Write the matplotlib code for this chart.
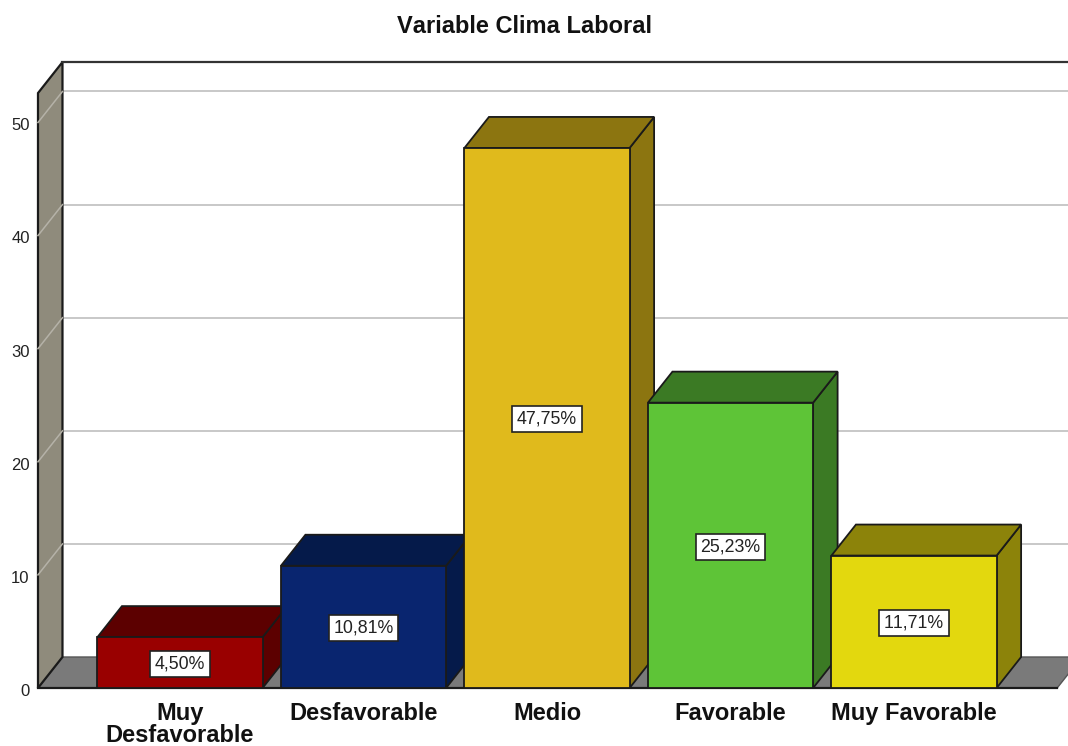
import matplotlib
matplotlib.use("Agg")
import matplotlib.pyplot as plt
from matplotlib.patches import Polygon

plt.rcParams["font.family"] = ["Liberation Sans", "DejaVu Sans"]
plt.rcParams["text.kerning_factor"] = 6

categories = ["Muy\nDesfavorable", "Desfavorable", "Medio", "Favorable", "Muy Favorable"]
values = [4.50, 10.81, 47.75, 25.23, 11.71]
labels = ["4,50%", "10,81%", "47,75%", "25,23%", "11,71%"]
front_colors = ["#990000", "#09256F", "#E0BA1C", "#5EC437", "#E3D80E"]
top_colors = ["#5C0000", "#051A4A", "#8C7510", "#3B7A24", "#8C830A"]
y_ticks = [0, 10, 20, 30, 40, 50]

# one axes over the whole figure, scaled so depth offsets stay in data units
fig = plt.figure(figsize=(10.68, 7.46), dpi=100)
ax = fig.add_axes([0, 0, 1, 1])
ax.set_xlim(-0.981, 4.839)
ax.set_ylim(-5.128, 60.83)
ax.axis("off")

dx = 0.1335
dy = 2.741
bar_w = 0.9
left = -0.774
right = 4.78
y_top = 52.6
edge = "#1a1a1a"

# floor and walls
ax.add_patch(Polygon([(left, 0), (left + dx, dy), (right + dx, dy), (right, 0)], closed=True,
                     facecolor="#7A7A7A", edgecolor="#555555", lw=1, zorder=1))
ax.add_patch(Polygon([(left, 0), (left + dx, dy), (left + dx, y_top + dy), (left, y_top)], closed=True,
                     facecolor="#8F8B7C", edgecolor=edge, lw=1.6, zorder=2))
ax.plot([left + dx, 5], [y_top + dy, y_top + dy], color="#333333", lw=1.6, zorder=2)
ax.plot([left, right], [0, 0], color=edge, lw=1.6, zorder=3)

for t in y_ticks[1:]:
    ax.plot([left + dx, 5], [t + dy, t + dy], color="#C4C4C4", lw=1.3, zorder=1)
    ax.plot([left, left + dx], [t, t + dy], color="#B5B2A8", lw=1.1, zorder=3)

for t in y_ticks:
    ax.text(left - 0.045, t - 0.3, str(t), ha="right", va="center", fontsize=12, color="#222222")

# bars, left to right so each one covers the side of the previous
for i, v in enumerate(values):
    x0 = i - bar_w / 2
    x1 = i + bar_w / 2
    z = 4 + i
    ax.add_patch(Polygon([(x1, 0), (x1 + dx, dy), (x1 + dx, v + dy), (x1, v)], closed=True,
                         facecolor=top_colors[i], edgecolor=edge, lw=1.3, zorder=z))
    ax.add_patch(Polygon([(x0, v), (x0 + dx, v + dy), (x1 + dx, v + dy), (x1, v)], closed=True,
                         facecolor=top_colors[i], edgecolor=edge, lw=1.3, zorder=z))
    ax.bar(i, v, width=bar_w, color=front_colors[i], edgecolor=edge, lw=1.3, zorder=z + 0.1)
    ax.text(i, v / 2 - 0.12, labels[i], ha="center", va="center", fontsize=12.8, color="#222222", zorder=20,
            bbox=dict(boxstyle="square,pad=0.26", facecolor="white", edgecolor="#222222", lw=1.2))
    ax.text(i, -1.25, categories[i], ha="center", va="top", fontsize=17, fontweight="bold",
            color="#111111", linespacing=0.94)

ax.text(-0.981 + 524 / 183.5, 60.83 - 26 / 11.31, "Variable Clima Laboral", ha="center", va="center",
        fontsize=17, fontweight="bold", color="#111111")

fig.savefig("out.png", dpi=100)
